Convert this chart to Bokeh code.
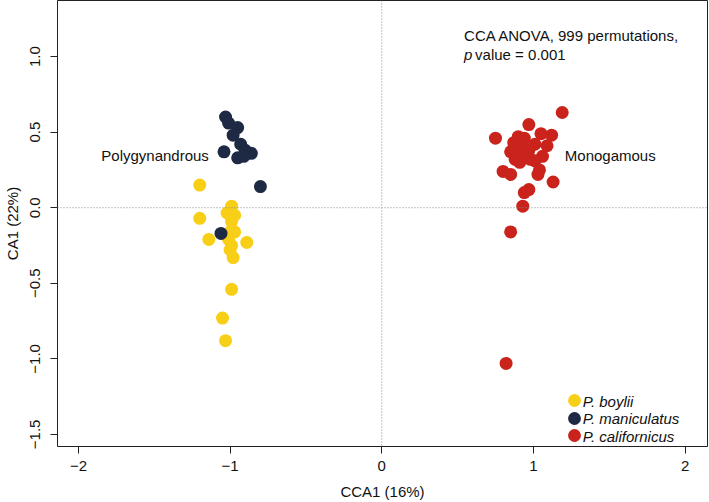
from bokeh.plotting import figure
from bokeh.models import Span, Label, Legend, LegendItem, FixedTicker, Range1d
from bokeh.embed import file_html
from bokeh.resources import INLINE

species = ["P. boylii", "P. maniculatus", "P. californicus"]
colors = ["#F8CF17", "#1E2944", "#C9231B"]

boylii_x = [-1.20, -0.99, -1.02, -0.97, -1.20, -0.99, -0.99, -0.97, -1.14, -1.01,
            -0.89, -0.99, -1.00, -0.98, -0.99, -1.05, -1.03]
boylii_y = [0.15, 0.01, -0.035, -0.05, -0.07, -0.09, -0.15, -0.16, -0.21, -0.21,
            -0.23, -0.25, -0.28, -0.33, -0.54, -0.73, -0.88]

manic_x = [-1.03, -1.01, -0.95, -0.98, -1.04, -0.93, -0.90, -0.86, -0.89, -0.95,
           -0.91, -0.80, -1.06]
manic_y = [0.60, 0.56, 0.53, 0.48, 0.37, 0.42, 0.38, 0.36, 0.36, 0.33,
           0.34, 0.14, -0.17]

calif_x = [1.19, 0.75, 0.97, 1.05, 1.12, 0.90, 0.94, 0.87, 0.93, 1.01,
           1.09, 0.85, 0.91, 0.97, 1.06, 0.88, 0.98, 0.91, 1.01, 1.04,
           1.03, 0.80, 0.85, 1.13, 0.97, 0.94, 0.93, 0.85, 0.82]
calif_y = [0.63, 0.46, 0.55, 0.49, 0.48, 0.47, 0.46, 0.43, 0.41, 0.42,
           0.41, 0.37, 0.36, 0.38, 0.34, 0.32, 0.32, 0.30, 0.31, 0.25,
           0.22, 0.24, 0.22, 0.17, 0.12, 0.10, 0.01, -0.16, -1.03]

x_ticks = [-2, -1, 0, 1, 2]
x_tick_labels = ["\u22122", "\u22121", "0", "1", "2"]
y_ticks = [-1.5, -1.0, -0.5, 0.0, 0.5, 1.0]
y_tick_labels = ["\u22121.5", "\u22121.0", "\u22120.5", "0.0", "0.5", "1.0"]

FONT = "Liberation Sans"
FS = "15px"
TXT = "#111111"

p = figure(width=709, height=502, output_backend="svg", toolbar_location=None,
           x_range=Range1d(-2.138, 2.148), y_range=Range1d(-1.580, 1.371),
           min_border_left=55, min_border_right=2, min_border_top=0, min_border_bottom=56,
           background_fill_color="white", border_fill_color="white")

p.xgrid.visible = False
p.ygrid.visible = False
p.outline_line_color = "#222222"
p.outline_line_width = 1

p.xaxis.axis_label = "CCA1 (16%)"
p.yaxis.axis_label = "CA1 (22%)"
p.xaxis.ticker = FixedTicker(ticks=x_ticks)
p.yaxis.ticker = FixedTicker(ticks=y_ticks)
p.xaxis.major_label_overrides = {t: l for t, l in zip(x_ticks, x_tick_labels)}
p.yaxis.major_label_overrides = {t: l for t, l in zip(y_ticks, y_tick_labels)}
p.yaxis.major_label_orientation = "vertical"
for ax in (p.xaxis, p.yaxis):
    ax.axis_line_color = None
    ax.major_tick_line_color = "#222222"
    ax.major_tick_out = 7
    ax.major_tick_in = 0
    ax.minor_tick_line_color = None
    ax.major_label_text_font = FONT
    ax.major_label_text_font_size = FS
    ax.major_label_text_color = TXT
    ax.axis_label_text_font = FONT
    ax.axis_label_text_font_size = FS
    ax.axis_label_text_font_style = "normal"
    ax.axis_label_text_color = TXT
p.xaxis.major_label_standoff = 7
p.xaxis.axis_label_standoff = 9
p.yaxis.major_label_standoff = 10
p.yaxis.axis_label_standoff = 7

p.add_layout(Span(location=0, dimension="width", line_color="#888888",
                  line_dash="1 2", line_width=1))
p.add_layout(Span(location=0, dimension="height", line_color="#888888",
                  line_dash="1 2", line_width=1))

r1 = p.scatter(boylii_x, boylii_y, size=13, fill_color=colors[0], line_color=None)
r2 = p.scatter(manic_x, manic_y, size=13, fill_color=colors[1], line_color=None)
r3 = p.scatter(calif_x, calif_y, size=13, fill_color=colors[2], line_color=None)

# legend: one marker box per species (dots), text as labels beside them
legend_rows_y = [30, 12.5, -5]          # screen offsets from frame bottom
legend_text_y = [-1.281, -1.397, -1.513]  # text rows in data units
for r, ly in zip([r1, r2, r3], legend_rows_y):
    lg = Legend(items=[LegendItem(label=" ", renderers=[r])],
                location=(501, ly), orientation="vertical",
                border_line_color=None, background_fill_alpha=0,
                padding=0, margin=0, spacing=0,
                glyph_height=32, glyph_width=32, label_height=17, label_standoff=0,
                label_text_font=FONT, label_text_font_size=FS)
    p.add_layout(lg, "center")

for name, ty in zip(species, legend_text_y):
    p.add_layout(Label(x=1.326, y=ty, text=name, text_align="left",
                       text_baseline="middle", text_font=FONT, text_font_size=FS,
                       text_font_style="italic", text_color=TXT))

p.add_layout(Label(x=-1.14, y=0.344, text="Polygynandrous", text_align="right",
                   text_baseline="middle", text_font=FONT, text_font_size=FS,
                   text_color=TXT))
p.add_layout(Label(x=1.207, y=0.344, text="Monogamous", text_align="left",
                   text_baseline="middle", text_font=FONT, text_font_size=FS,
                   text_color=TXT))
p.add_layout(Label(x=0.543, y=1.142, text="CCA ANOVA, 999 permutations,", text_align="left",
                   text_baseline="middle", text_font=FONT, text_font_size=FS,
                   text_color=TXT))
p.add_layout(Label(x=0.543, y=1.016, text="p", text_align="left",
                   text_baseline="middle", text_font=FONT, text_font_size=FS,
                   text_font_style="italic", text_color=TXT))
p.add_layout(Label(x=0.543, y=1.016, x_offset=11, text="value = 0.001", text_align="left",
                   text_baseline="middle", text_font=FONT, text_font_size=FS,
                   text_color=TXT))

open("out.html", "w").write(file_html(p, INLINE))
